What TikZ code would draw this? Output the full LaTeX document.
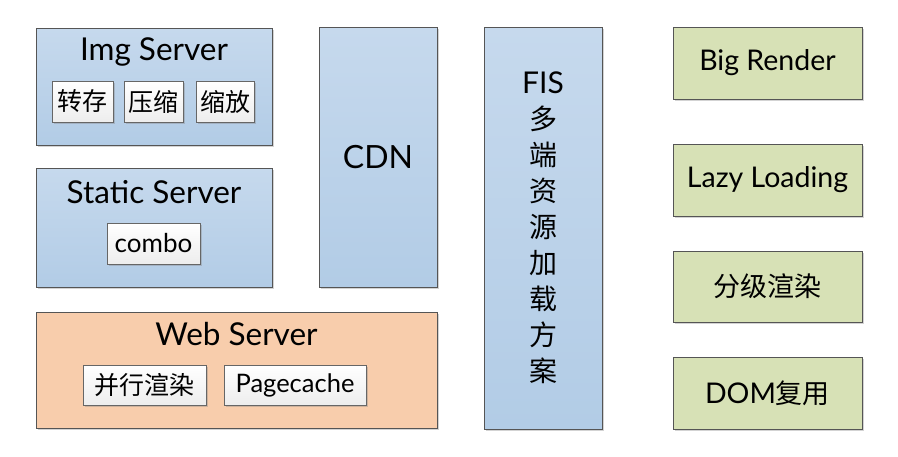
\documentclass[tikz,border=0pt]{standalone}
\usepackage{fontspec}
\setmainfont{Lato}
\newfontfamily\cjk{Noto Sans CJK SC}
\usetikzlibrary{shadows}
\definecolor{bluetop}{RGB}{198,217,237}
\definecolor{bluebot}{RGB}{178,204,230}
\definecolor{orangefill}{RGB}{248,205,172}
\definecolor{greenfill}{RGB}{215,225,182}
\definecolor{edgegray}{RGB}{85,85,85}
\begin{document}
\begin{tikzpicture}[x=1pt,y=-1pt,
  shad/.style={drop shadow={shadow xshift=1.5pt,shadow yshift=-1.5pt,opacity=0.35,fill=black!50}},
  bigbox/.style={draw=edgegray,line width=0.9pt,inner sep=0pt,shad},
  bluebox/.style={bigbox,top color=bluetop,bottom color=bluebot},
  orangebox/.style={bigbox,fill=orangefill},
  greenbox/.style={bigbox,fill=greenfill,font=\fontsize{28.5}{32}\selectfont},
  inbox/.style={draw=edgegray!90,line width=0.8pt,top color=white,bottom color=black!7,inner sep=0pt,
    font=\fontsize{25}{29}\selectfont,shad},
  title/.style={anchor=base,inner sep=0pt,font=\fontsize{31.5}{36}\selectfont}
]
\useasboundingbox (0,0) rectangle (898,456);

% Img Server
\node[bluebox,minimum width=236pt,minimum height=117pt] (img) at (154,86.5) {};
\node[title] (imgt) at (154,60) {Img Server};
\node[inbox,minimum width=61pt,minimum height=41pt] (zc) at (82.5,101.5) {\cjk 转存};
\node[inbox,minimum width=59pt,minimum height=41pt] (ys) at (153.5,101.5) {\cjk 压缩};
\node[inbox,minimum width=58pt,minimum height=41pt] (sf) at (225,101.5) {\cjk 缩放};

% Static Server
\node[bluebox,minimum width=236pt,minimum height=119pt] (static) at (154,227.5) {};
\node[title] (statict) at (154,203) {Static Server};
\node[inbox,minimum width=93pt,minimum height=41pt,font=\fontsize{26}{30}\selectfont] (combo) at (153.5,243.5) {combo};

% Web Server
\node[orangebox,minimum width=401pt,minimum height=116pt] (web) at (236.5,370) {};
\node[title] (webt) at (236.5,345) {Web Server};
\node[inbox,minimum width=123pt,minimum height=40pt] (bx) at (144.5,385) {\cjk 并行渲染};
\node[inbox,minimum width=142pt,minimum height=40pt,font=\fontsize{25.5}{29}\selectfont] (pc) at (295,385) {Pagecache};

% CDN
\node[bluebox,minimum width=118pt,minimum height=260pt,font=\fontsize{32}{36}\selectfont] (cdn) at (378,157) {CDN};

% FIS
\node[bluebox,minimum width=118pt,minimum height=402pt] (fis) at (543,228) {};
\node[inner sep=0pt,font=\fontsize{28}{36}\selectfont,align=center] (fist) at (543,228)
  {{\fontsize{30}{36}\selectfont FIS}\\{\cjk 多}\\{\cjk 端}\\{\cjk 资}\\{\cjk 源}\\{\cjk 加}\\{\cjk 载}\\{\cjk 方}\\{\cjk 案}};

% right column
\node[greenbox,minimum width=189pt,minimum height=72pt] (br) at (767.5,63) {Big Render};
\node[greenbox,minimum width=189pt,minimum height=72pt] (ll) at (767.5,180) {Lazy Loading};
\node[greenbox,minimum width=189pt,minimum height=71pt,font=\fontsize{27}{31}\selectfont] (fj) at (767.5,286.5) {\cjk 分级渲染};
\node[greenbox,minimum width=189pt,minimum height=72pt] (dom) at (767.5,393) {DOM{\cjk\fontsize{27}{31}\selectfont 复用}};
\end{tikzpicture}
\end{document}
